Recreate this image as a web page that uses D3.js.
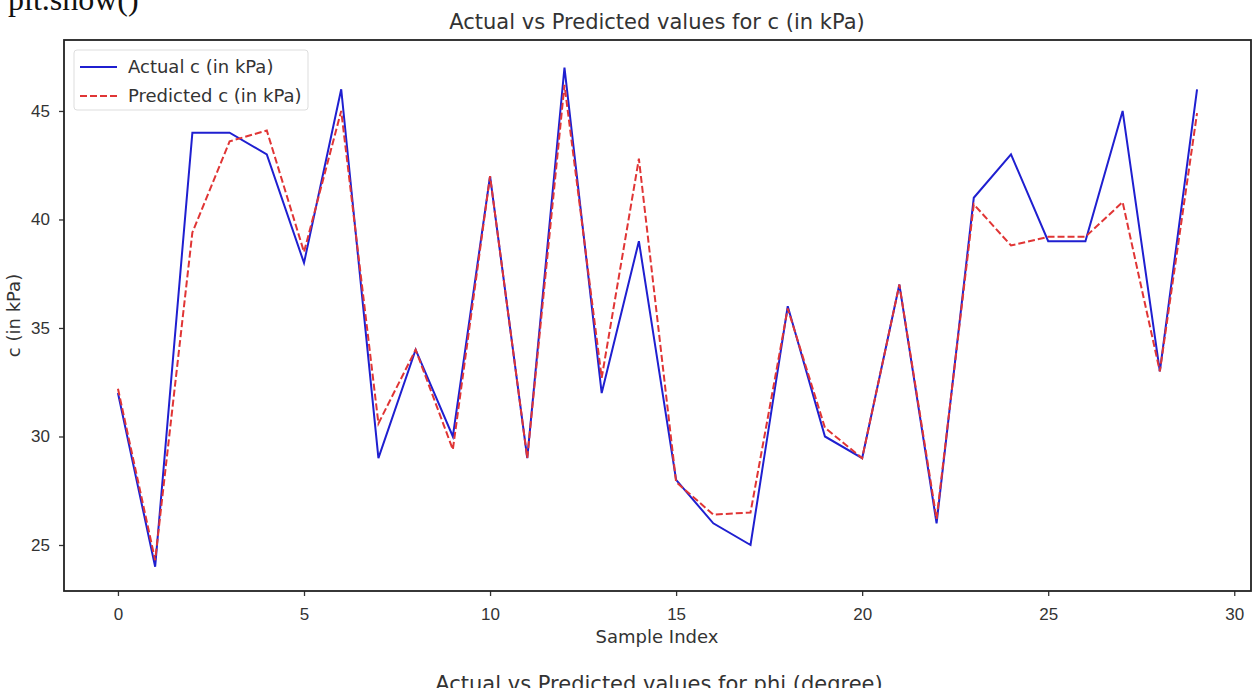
<!DOCTYPE html>
<html>
<head>
<meta charset="utf-8">
<script src="https://cdn.jsdelivr.net/npm/d3@7"></script>
<style>
  body { margin: 0; background: #fff; }
  svg { display: block; font-family: "DejaVu Sans", sans-serif; }
</style>
</head>
<body>
<svg id="chart" width="1252" height="688"></svg>
<script>
// sample indices and the two series
const sampleIndex = d3.range(30);
const actualC = [32, 24, 44, 44, 43, 38, 46, 29, 34, 30, 42, 29, 47, 32, 39,
                 28, 26, 25, 36, 30, 29, 37, 26, 41, 43, 39, 39, 45, 33, 46];
const predictedC = [32.2, 24.3, 39.4, 43.6, 44.1, 38.5, 45.0, 30.6, 34.0, 29.4, 42.0, 29.0, 46.2, 32.7, 42.8,
                    27.9, 26.4, 26.5, 35.9, 30.4, 29.0, 37.0, 26.2, 40.7, 38.8, 39.2, 39.2, 40.8, 33.0, 44.9];
const xTicks = [0, 5, 10, 15, 20, 25, 30];
const yTicks = [25, 30, 35, 40, 45];

const svg = d3.select("#chart");
const m = { left: 64, right: 1251, top: 40, bottom: 591 };

const x = d3.scaleLinear().domain([-1.45, 30.45]).range([m.left, m.right]);
const y = d3.scaleLinear().domain([22.88, 48.27]).range([m.bottom, m.top]);

// stray text from the notebook cell above (clipped by the top edge)
svg.append("text")
    .attr("x", 8).attr("y", 10)
    .style("font-family", "'Liberation Serif', serif")
    .style("font-size", "32px")
    .attr("fill", "#111")
    .text("plt.show()");

// title
svg.append("text")
    .attr("x", 657).attr("y", 29)
    .attr("text-anchor", "middle")
    .style("font-size", "21px")
    .attr("fill", "#333")
    .text("Actual vs Predicted values for c (in kPa)");

// axes
const xAxis = svg.append("g")
    .attr("transform", `translate(0,${m.bottom})`)
    .call(d3.axisBottom(x).tickValues(xTicks).tickSize(5).tickPadding(12));
const yAxis = svg.append("g")
    .attr("transform", `translate(${m.left},0)`)
    .call(d3.axisLeft(y).tickValues(yTicks).tickSize(5).tickPadding(9));

[xAxis, yAxis].forEach(g => {
  g.select(".domain").remove();
  g.selectAll("line").attr("stroke", "#333").attr("stroke-width", 1.3);
  g.selectAll("text").attr("fill", "#333").style("font-size", "17px");
});

// frame
svg.append("rect")
    .attr("x", m.left).attr("y", m.top)
    .attr("width", m.right - m.left).attr("height", m.bottom - m.top)
    .attr("fill", "none").attr("stroke", "#222").attr("stroke-width", 1.8);

// axis labels
svg.append("text")
    .attr("x", 657).attr("y", 643)
    .attr("text-anchor", "middle")
    .style("font-size", "18px")
    .attr("fill", "#333")
    .text("Sample Index");

svg.append("text")
    .attr("transform", `translate(20,${(m.top + m.bottom) / 2}) rotate(-90)`)
    .attr("text-anchor", "middle")
    .style("font-size", "18px")
    .attr("fill", "#333")
    .text("c (in kPa)");

// lines
const line = vals => d3.line().x((d, i) => x(sampleIndex[i])).y(d => y(d))(vals);

svg.append("path")
    .attr("d", line(actualC))
    .attr("fill", "none")
    .attr("stroke", "#1f1fd0")
    .attr("stroke-width", 2);

svg.append("path")
    .attr("d", line(predictedC))
    .attr("fill", "none")
    .attr("stroke", "#e03535")
    .attr("stroke-width", 2)
    .attr("stroke-dasharray", "7,3");

// legend
const lg = svg.append("g").attr("transform", "translate(74,50)");
lg.append("rect")
    .attr("width", 234).attr("height", 60).attr("rx", 3)
    .attr("fill", "#fff").attr("fill-opacity", 0.8)
    .attr("stroke", "#ddd");
const items = [
  { label: "Actual c (in kPa)", color: "#1f1fd0", dash: null },
  { label: "Predicted c (in kPa)", color: "#e03535", dash: "7,3" }
];
items.forEach((d, i) => {
  const yy = 17 + i * 29;
  lg.append("line")
      .attr("x1", 6).attr("x2", 43).attr("y1", yy).attr("y2", yy)
      .attr("stroke", d.color).attr("stroke-width", 2)
      .attr("stroke-dasharray", d.dash);
  lg.append("text")
      .attr("x", 54).attr("y", yy + 6)
      .style("font-size", "18px")
      .attr("fill", "#333")
      .text(d.label);
});

// next figure's title, mostly cut off at the bottom edge
svg.append("text")
    .attr("x", 659).attr("y", 691)
    .attr("text-anchor", "middle")
    .style("font-size", "21px")
    .attr("fill", "#333")
    .text("Actual vs Predicted values for phi (degree)");
</script>
</body>
</html>
